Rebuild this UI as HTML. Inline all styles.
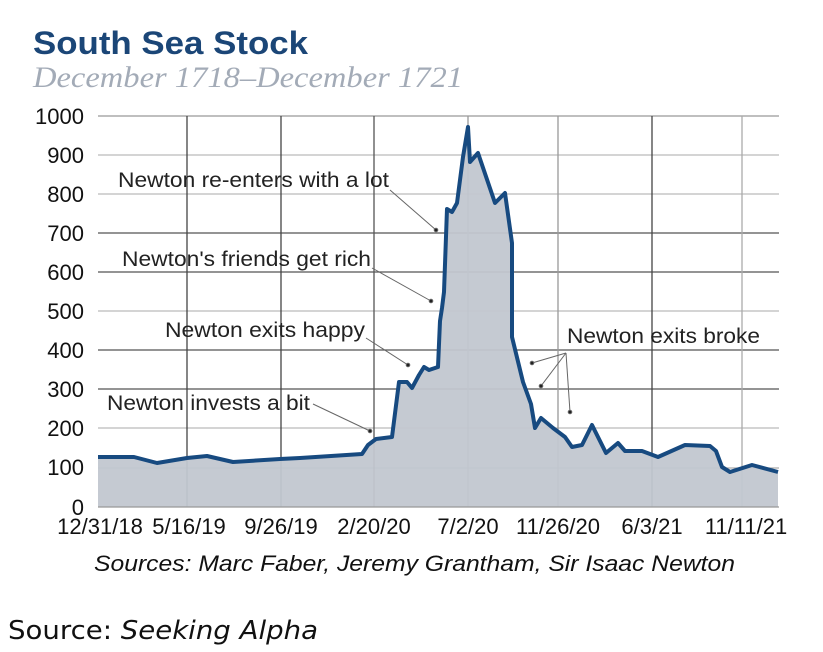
<!DOCTYPE html>
<html><head><meta charset="utf-8"><style>
body{margin:0;background:#fff;width:823px;height:652px;overflow:hidden}
svg{display:block}
</style></head><body>
<svg width="823" height="652" xmlns="http://www.w3.org/2000/svg" font-family="Liberation Sans, sans-serif">
<text x="33" y="54" font-size="32" font-weight="bold" fill="#1b4677" textLength="275" lengthAdjust="spacingAndGlyphs">South Sea Stock</text>
<text x="33" y="87" font-size="30" font-style="italic" font-family="Liberation Serif, serif" fill="#a3abb7" textLength="430" lengthAdjust="spacingAndGlyphs">December 1718–December 1721</text>
<g stroke-width="1.3">
<line x1="98" x2="779" y1="116" y2="116" stroke="#999"/>
<line x1="98" x2="779" y1="155" y2="155" stroke="#bbb"/>
<line x1="98" x2="779" y1="194" y2="194" stroke="#bbb"/>
<line x1="98" x2="779" y1="233" y2="233" stroke="#555"/>
<line x1="98" x2="779" y1="272" y2="272" stroke="#555"/>
<line x1="98" x2="779" y1="311" y2="311" stroke="#bbb"/>
<line x1="98" x2="779" y1="350" y2="350" stroke="#555"/>
<line x1="98" x2="779" y1="389" y2="389" stroke="#555"/>
<line x1="98" x2="779" y1="428" y2="428" stroke="#bbb"/>
<line x1="98" x2="779" y1="468" y2="468" stroke="#aaa"/>
<line x1="187" x2="187" y1="116" y2="507" stroke="#444"/>
<line x1="281" x2="281" y1="116" y2="507" stroke="#444"/>
<line x1="374" x2="374" y1="116" y2="507" stroke="#555"/>
<line x1="468" x2="468" y1="116" y2="507" stroke="#999"/>
<line x1="558" x2="558" y1="116" y2="507" stroke="#999"/>
<line x1="652" x2="652" y1="116" y2="507" stroke="#444"/>
<line x1="742" x2="742" y1="116" y2="507" stroke="#aaa"/>
</g>
<path fill="#c2c7d0" fill-opacity="0.95" d="M98,457 L134,457 157,463 187,458 207,456 233,462 280,459 300,458 362,454 368,445 376,439 392,437 399,382 407,382 412,388 419,375 424,367 429,370 438,367 440,321 442,308 444,292 447,209 452,212 457,203 463,157 468,127 470,162 478,153 495,203 505,193 512,243 512,337 523,382 531,404 535,428 541,418 553,428 565,437 572,447 582,445 592,425 606,453 618,443 625,451 642,451 658,457 685,445 710,446 716,451 722,467 730,472 752,465 778,472 L778,507 L98,507 Z"/>
<line x1="98" x2="779" y1="507" y2="507" stroke="#999" stroke-width="1.3"/>
<polyline fill="none" stroke="#174a80" stroke-width="4" stroke-linejoin="round" points="98,457 134,457 157,463 187,458 207,456 233,462 280,459 300,458 362,454 368,445 376,439 392,437 399,382 407,382 412,388 419,375 424,367 429,370 438,367 440,321 442,308 444,292 447,209 452,212 457,203 463,157 468,127 470,162 478,153 495,203 505,193 512,243 512,337 523,382 531,404 535,428 541,418 553,428 565,437 572,447 582,445 592,425 606,453 618,443 625,451 642,451 658,457 685,445 710,446 716,451 722,467 730,472 752,465 778,472"/>
<g font-size="22" fill="#111" text-anchor="end">
<text x="84" y="124">1000</text><text x="84" y="163">900</text><text x="84" y="202">800</text>
<text x="84" y="241">700</text><text x="84" y="280">600</text><text x="84" y="319">500</text>
<text x="84" y="358">400</text><text x="84" y="397">300</text><text x="84" y="436">200</text>
<text x="84" y="475">100</text><text x="84" y="515">0</text>
</g>
<g font-size="22" fill="#111" text-anchor="middle">
<text x="100" y="534">12/31/18</text><text x="189" y="534">5/16/19</text><text x="281" y="534">9/26/19</text>
<text x="374" y="534">2/20/20</text><text x="468" y="534">7/2/20</text><text x="558" y="534">11/26/20</text>
<text x="652" y="534">6/3/21</text><text x="746" y="534">11/11/21</text>
</g>
<g font-size="21" fill="#222" lengthAdjust="spacingAndGlyphs">
<text x="118" y="187" textLength="271" lengthAdjust="spacingAndGlyphs">Newton re-enters with a lot</text>
<text x="122" y="266" textLength="249" lengthAdjust="spacingAndGlyphs">Newton's friends get rich</text>
<text x="165" y="337" textLength="200" lengthAdjust="spacingAndGlyphs">Newton exits happy</text>
<text x="107" y="410" textLength="203" lengthAdjust="spacingAndGlyphs">Newton invests a bit</text>
<text x="567" y="343" textLength="193" lengthAdjust="spacingAndGlyphs">Newton exits broke</text>
</g>
<g stroke="#666" stroke-width="1" fill="#222">
<line x1="390" y1="190" x2="436" y2="230"/><circle cx="436" cy="230" r="1.8"/>
<line x1="372" y1="268" x2="431" y2="301"/><circle cx="431" cy="301" r="1.8"/>
<line x1="366" y1="338" x2="408" y2="365"/><circle cx="408" cy="365" r="1.8"/>
<line x1="313" y1="404" x2="370" y2="431"/><circle cx="370" cy="431" r="1.8"/>
<line x1="566" y1="353" x2="532" y2="363"/><circle cx="532" cy="363" r="1.8"/>
<line x1="566" y1="353" x2="541" y2="386"/><circle cx="541" cy="386" r="1.8"/>
<line x1="566" y1="353" x2="570" y2="412"/><circle cx="570" cy="412" r="1.8"/>
</g>
<text x="94" y="571" font-size="22" font-style="italic" fill="#111" textLength="641" lengthAdjust="spacingAndGlyphs">Sources: Marc Faber, Jeremy Grantham, Sir Isaac Newton</text>
<text x="8" y="639" font-size="26" fill="#111" font-family="DejaVu Sans, sans-serif" textLength="310" lengthAdjust="spacingAndGlyphs">Source: <tspan font-style="italic">Seeking Alpha</tspan></text>
</svg>
</body></html>
